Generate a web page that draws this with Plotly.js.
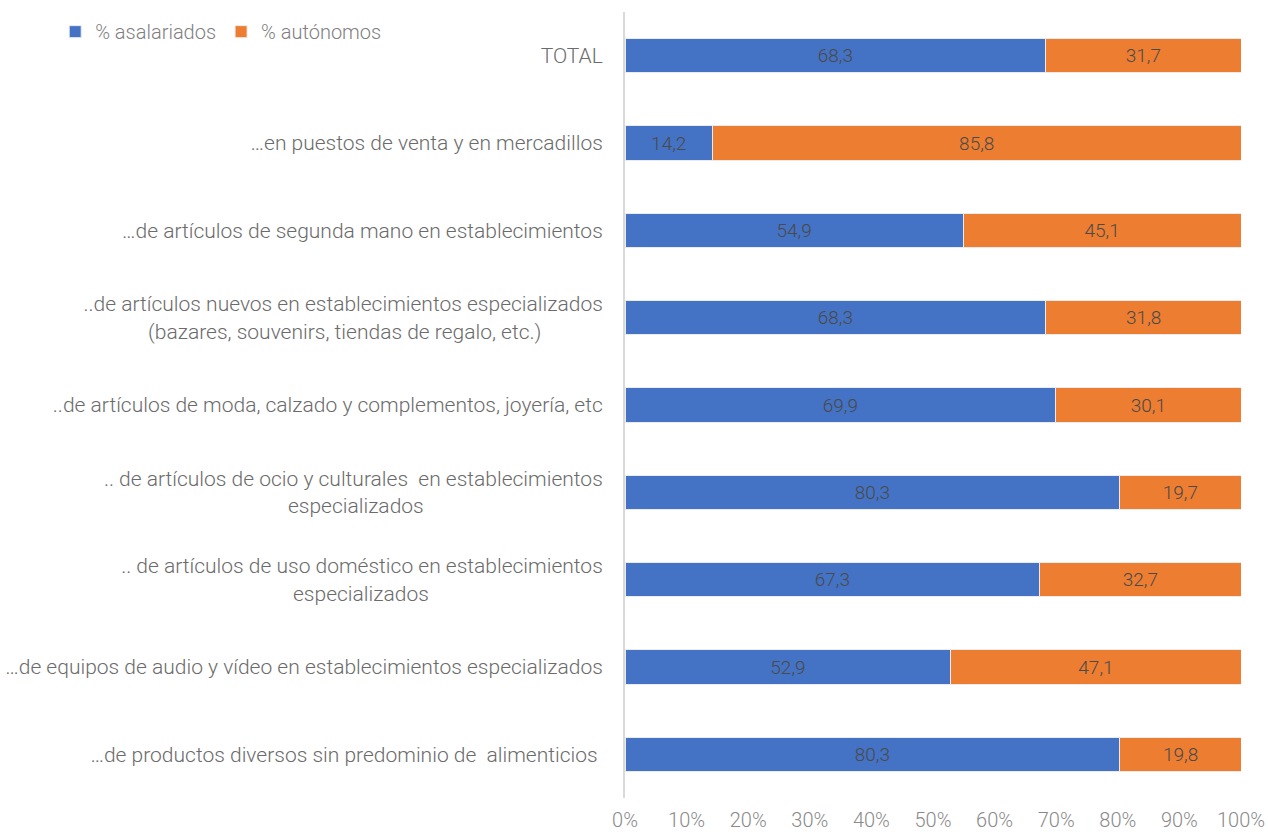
<!DOCTYPE html>
<html><head><meta charset="utf-8">
<script src="https://cdn.plot.ly/plotly-3.0.1.min.js"></script>
<style>html,body{margin:0;padding:0;background:#fff}#c{width:1268px;height:834px}</style>
</head><body><div id="c"></div>
<script>
const categories = [
  "TOTAL",
  "…en puestos de venta y en mercadillos",
  "…de artículos de segunda mano en establecimientos",
  "..de artículos nuevos en establecimientos especializados<br>(bazares, souvenirs, tiendas de regalo, etc.)" + "&nbsp;".repeat(12),
  "..de artículos de moda, calzado y complementos, joyería, etc",
  ".. de artículos de ocio y culturales  en establecimientos<br>especializados" + "&nbsp;".repeat(35),
  ".. de artículos de uso doméstico en establecimientos<br>especializados" + "&nbsp;".repeat(34),
  "…de equipos de audio y vídeo en establecimientos especializados",
  "…de productos diversos sin predominio de  alimenticios "
];
const asalariados = [68.3, 14.2, 54.9, 68.3, 69.9, 80.3, 67.3, 52.9, 80.3];
const autonomos = [31.7, 85.8, 45.1, 31.8, 30.1, 19.7, 32.7, 47.1, 19.8];
const seriesNames = ["% asalariados", "% autónomos"];
const xTicks = [0,10,20,30,40,50,60,70,80,90,100];
const xTickText = xTicks.map(v => v + '%');

const FONT = "'Roboto Light', Roboto, 'Open Sans', sans-serif";
function trace(vals, name, color){
  return {
    type: 'bar', orientation: 'h', y: categories, x: vals, name: name,
    marker: {color: color, line: {color: 'rgba(235,235,235,1)', width: 1}},
    width: 0.39,
    texttemplate: '%{x:.1f}', textposition: 'inside', insidetextanchor: 'middle',
    textfont: {family: FONT, size: 19, color: '#4a4a4a', weight: 300},
    hoverinfo: 'skip'
  };
}
const data = [trace(asalariados, seriesNames[0], '#4472C4'), trace(autonomos, seriesNames[1], '#ED7D31')];
const layout = {
  width: 1268, height: 834,
  barmode: 'stack',
  separators: ',.',
  margin: {l: 625, r: 27, t: 12, b: 36, autoexpand: false},
  paper_bgcolor: '#fff', plot_bgcolor: '#fff',
  font: {family: FONT, size: 19, color: '#6b6b6b', weight: 300},
  showlegend: true,
  legend: {orientation: 'h', x: -0.925, xanchor: 'left', y: 0.975, yanchor: 'middle',
           font: {family: FONT, size: 20, color: '#808080', weight: 300}, itemwidth: 20, traceorder: 'normal'},
  xaxis: {range: [0, 100], tickvals: xTicks, ticktext: xTickText, showgrid: false, zeroline: false, automargin: false,
          showline: false, ticks: '', ticklabelstandoff: 8,
          tickfont: {family: FONT, size: 20, color: '#8a8a8a', weight: 300}, fixedrange: true},
  yaxis: {autorange: 'reversed', type: 'category', showline: true, linecolor: '#d9d9d9', linewidth: 2, automargin: false,
          ticks: '', showgrid: false, zeroline: false, ticklabelstandoff: 16,
          tickfont: {family: FONT, size: 21, color: '#6b6b6b', weight: 300}, fixedrange: true}
};
Plotly.newPlot('c', data, layout, {displayModeBar: false, staticPlot: true});
</script></body></html>
